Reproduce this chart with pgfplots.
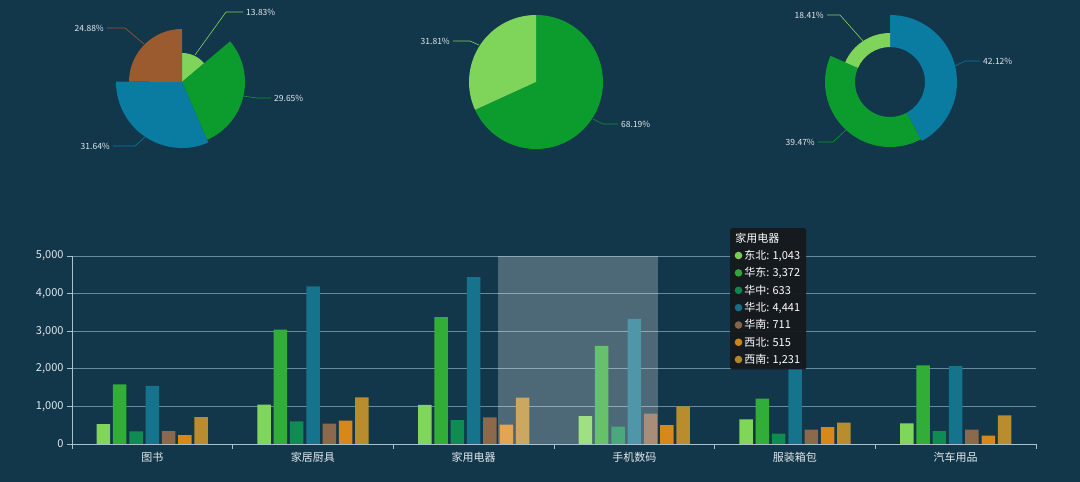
\documentclass[border=0pt]{standalone}
\usepackage{pgfplots}
\pgfplotsset{compat=1.18}
\usepackage{pgfplotstable}
\usepackage{fontspec}
\setmainfont{Noto Sans CJK SC}

\definecolor{bg}{HTML}{12364A}
\definecolor{gridc}{HTML}{668B9A}
\definecolor{axisc}{HTML}{A9C2CB}
\definecolor{labc}{HTML}{E2E9EC}
\definecolor{tipbg}{HTML}{16191D}
% series
\definecolor{cDB}{HTML}{80D65A}
\definecolor{cHD}{HTML}{32AE38}
\definecolor{cHZ}{HTML}{0F8C52}
\definecolor{cHB}{HTML}{15738C}
\definecolor{cHN}{HTML}{8C694B}
\definecolor{cXB}{HTML}{D8881A}
\definecolor{cXN}{HTML}{B98C2D}
% pies
\definecolor{pLG}{HTML}{7ED55A}
\definecolor{pG}{HTML}{0B9C2D}
\definecolor{pB}{HTML}{0A7BA1}
\definecolor{pBr}{HTML}{9B5B2F}

% cx cy r start pct color
\newcommand\pieslice[6]{%
  \fill[#6] (axis cs:#1,#2) -- ++(#4:#3pt) arc[start angle=#4, delta angle={-3.6*#5}, radius=#3pt] -- cycle;}
% cx cy rin rout start pct color
\newcommand\ringslice[7]{%
  \fill[#7] (axis cs:#1,#2) ++(#5:#4pt) arc[start angle=#5, delta angle={-3.6*#6}, radius=#4pt]
    -- ++({#5-3.6*#6}:{(#3-#4)*1pt}) arc[start angle={#5-3.6*#6}, delta angle={3.6*#6}, radius=#3pt] -- cycle;}

\pgfplotstableread{
cat dongbei huadong huazhong huabei huanan xibei xinan
0   531  1584 336 1549 345 239 717
1   1044 3044 602 4195 540 619 1239
2   1043 3372 633 4441 711 515 1231
3   743  2611 460 3327 805 504 1000
4   655  1204 274 2200 381 451 566
5   549  2088 345 2071 381 221 761
}\sales

\begin{document}
\begin{tikzpicture}
\fill[bg] (0pt,0pt) rectangle (1080pt,482pt);

% three pies, pixel coordinates
\begin{axis}[
  at={(0pt,0pt)}, anchor=south west,
  width=1080pt, height=482pt, scale only axis,
  xmin=0, xmax=1080, ymin=0, ymax=482, y dir=reverse,
  hide axis, clip=false,
]
\pieslice{182}{82}{29}{90}{13.83}{pLG}
\pieslice{182}{82}{63}{40.212}{29.65}{pG}
\pieslice{182}{82}{66}{-66.528}{31.64}{pB}
\pieslice{182}{82}{53}{-180.432}{24.88}{pBr}

\pieslice{536}{82}{67}{90}{68.19}{pG}
\pieslice{536}{82}{67}{-155.484}{31.81}{pLG}

\ringslice{890}{82}{35}{67}{90}{42.12}{pB}
\ringslice{890}{82}{35}{65}{-61.632}{39.47}{pG}
\ringslice{890}{82}{35}{49}{-203.724}{18.41}{pLG}

\begin{scope}[line width=0.6pt]
\draw[pLG] (axis cs:195,55) -- (axis cs:226,12) -- (axis cs:243,12);
\draw[pG] (axis cs:243,96) -- (axis cs:257,98) -- (axis cs:271,98);
\draw[pB] (axis cs:145,137) -- (axis cs:135,146) -- (axis cs:113,146);
\draw[pBr] (axis cs:144,44) -- (axis cs:125,28) -- (axis cs:107,28);
\draw[pLG] (axis cs:479,45) -- (axis cs:470,41) -- (axis cs:453,41);
\draw[pG] (axis cs:593,119) -- (axis cs:603,124) -- (axis cs:618,124);
\draw[pLG] (axis cs:863,41) -- (axis cs:840,15) -- (axis cs:827,15);
\draw[pB] (axis cs:955,66) -- (axis cs:965,61) -- (axis cs:980,61);
\draw[pG] (axis cs:847,129) -- (axis cs:833,142) -- (axis cs:818,142);
\end{scope}
\begin{scope}[every node/.style={font=\fontsize{8.5}{9}\selectfont, text=labc, inner sep=1pt}]
\node[anchor=west] at (axis cs:245,12) {13.83\%};
\node[anchor=west] at (axis cs:273,98) {29.65\%};
\node[anchor=east] at (axis cs:111,146) {31.64\%};
\node[anchor=east] at (axis cs:105,28) {24.88\%};
\node[anchor=east] at (axis cs:451,41) {31.81\%};
\node[anchor=west] at (axis cs:620,124) {68.19\%};
\node[anchor=east] at (axis cs:825,15) {18.41\%};
\node[anchor=west] at (axis cs:982,61) {42.12\%};
\node[anchor=east] at (axis cs:816,142) {39.47\%};
\end{scope}
\end{axis}

% bar chart
\begin{axis}[
  at={(72pt,38pt)}, anchor=south west,
  width=964pt, height=188pt, scale only axis,
  ybar=2.8pt, bar width=13.5pt,
  xmin=-0.5, xmax=5.5, ymin=0, ymax=5000,
  xtick={-0.5,0.5,...,5.5},
  xticklabels={图书,家居厨具,家用电器,手机数码,服装箱包,汽车用品,{}},
  xticklabel style={xshift=80.33pt},
  ytick={0,1000,...,5000},
  scaled y ticks=false,
  yticklabel style={/pgf/number format/.cd, 1000 sep={,}, assume math mode=true},
  axis lines*=left,
  axis line style={axisc, line width=0.8pt},
  tick align=outside, major tick length=5pt,
  tick style={axisc, line width=0.8pt},
  ticklabel style={text=labc, font=\fontsize{11}{12}\selectfont},
  ymajorgrids, major grid style={gridc, line width=0.7pt},
  legend style={
    at={(axis description cs:0.6826,1.149)}, anchor=north west,
    fill=tipbg, fill opacity=0.95, text opacity=1, draw=none, rounded corners=2pt,
    font=\fontsize{11}{12}\selectfont, text=white,
    inner xsep=4pt, inner ysep=2.5pt, row sep=2.6pt,
    cells={anchor=west},
  },
  legend image code/.code={\fill[#1] (0.15cm,0cm) circle (3.8pt);},
]
\addlegendimage{empty legend}
\addlegendentry{\hspace*{-9pt}家用电器}
\addplot[fill=cDB, draw=none] table[x=cat, y=dongbei] {\sales};
\addlegendentry{东北: 1,043}
\addplot[fill=cHD, draw=none] table[x=cat, y=huadong] {\sales};
\addlegendentry{华东: 3,372}
\addplot[fill=cHZ, draw=none] table[x=cat, y=huazhong] {\sales};
\addlegendentry{华中: 633}
\addplot[fill=cHB, draw=none] table[x=cat, y=huabei] {\sales};
\addlegendentry{华北: 4,441}
\addplot[fill=cHN, draw=none] table[x=cat, y=huanan] {\sales};
\addlegendentry{华南: 711}
\addplot[fill=cXB, draw=none] table[x=cat, y=xibei] {\sales};
\addlegendentry{西北: 515}
\addplot[fill=cXN, draw=none] table[x=cat, y=xinan] {\sales};
\addlegendentry{西南: 1,231}
% hover shadow
\addplot[sharp plot, draw=none, fill=white, fill opacity=0.25, forget plot]
  coordinates {(2.15,0) (2.15,5000) (3.15,5000) (3.15,0)} -- cycle;
\end{axis}
\pgfresetboundingbox
\useasboundingbox (0pt,0pt) rectangle (1080pt,482pt);
\end{tikzpicture}
\end{document}
